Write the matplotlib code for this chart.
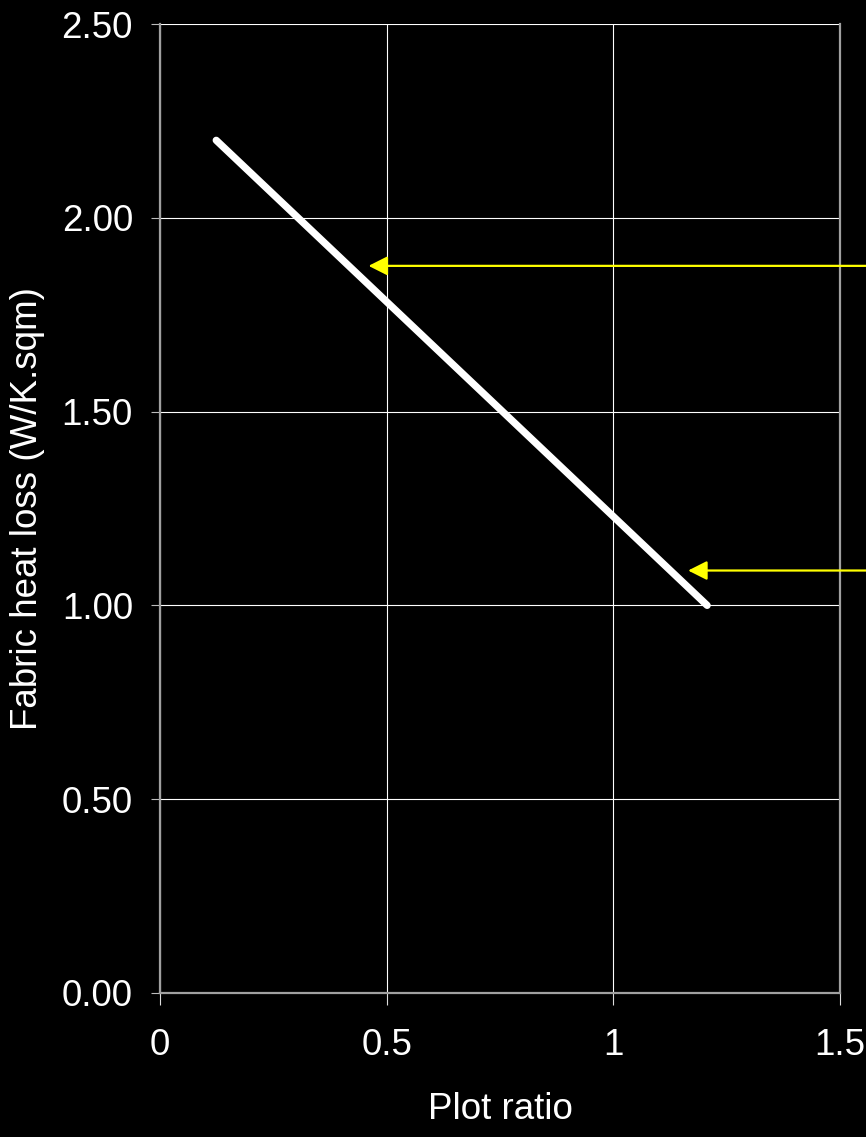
import matplotlib
matplotlib.use('Agg')
import matplotlib.pyplot as plt

plt.rcParams['font.family'] = ['Liberation Sans', 'DejaVu Sans']

# data
plot_ratio = [0.124, 1.207]
heat_loss = [2.2, 1.0]

x_ticks = [0, 0.5, 1, 1.5]
x_tick_labels = ['0', '0.5', '1', '1.5']
y_ticks = [0, 0.5, 1.0, 1.5, 2.0, 2.5]
y_tick_labels = ['0.00', '0.50', '1.00', '1.50', '2.00', '2.50']

# arrow tips (pointing into the line from the right edge)
arrow_x = [0.46, 1.165]
arrow_y = [1.876, 1.09]

W, H = 866, 1137
fig = plt.figure(figsize=(W / 100, H / 100), dpi=100, facecolor='black')
ax = fig.add_axes([160 / W, 1 - 993 / H, 680 / W, 969 / H], facecolor='black')

ax.set_xlim(0, 1.5)
ax.set_ylim(0, 2.5)

ax.grid(True, color='white', linewidth=0.8)
ax.set_axisbelow(True)

ax.plot(plot_ratio, heat_loss, color='white', linewidth=5.2,
        solid_capstyle='round', zorder=3)

for xt, yt in zip(arrow_x, arrow_y):
    ax.annotate('', xy=(xt, yt), xycoords='data',
                xytext=(1.01, yt), textcoords=('figure fraction', 'data'),
                arrowprops=dict(arrowstyle='-|>,head_length=1.15,head_width=0.58',
                                mutation_scale=10, color='#ffff00', lw=1.6,
                                shrinkA=0, shrinkB=0),
                annotation_clip=False, zorder=4)

ax.set_xticks(x_ticks)
ax.set_xticklabels(x_tick_labels)
ax.set_yticks(y_ticks)
ax.set_yticklabels(y_tick_labels)

ax.tick_params(axis='y', colors='white', length=6.5, width=0.8, pad=13,
               labelsize=26.5, color='#bbbbbb')
ax.tick_params(axis='x', colors='white', length=8.6, width=0.8, pad=16.5,
               labelsize=26.5, color='#dddddd')

for side in ['left', 'bottom', 'right']:
    ax.spines[side].set_color('#a0a0a0')
    ax.spines[side].set_linewidth(1.6)
ax.spines['top'].set_visible(False)

ax.set_xlabel('Plot ratio', color='white', fontsize=26.5, labelpad=21)
ax.set_ylabel('Fabric heat loss (W/K.sqm)', color='white', fontsize=26.5,
              labelpad=27)
ax.yaxis.set_label_coords(-0.195, 0.5)
ax.yaxis.label.set_verticalalignment('center')

fig.savefig('out.png', dpi=100, facecolor='black')
